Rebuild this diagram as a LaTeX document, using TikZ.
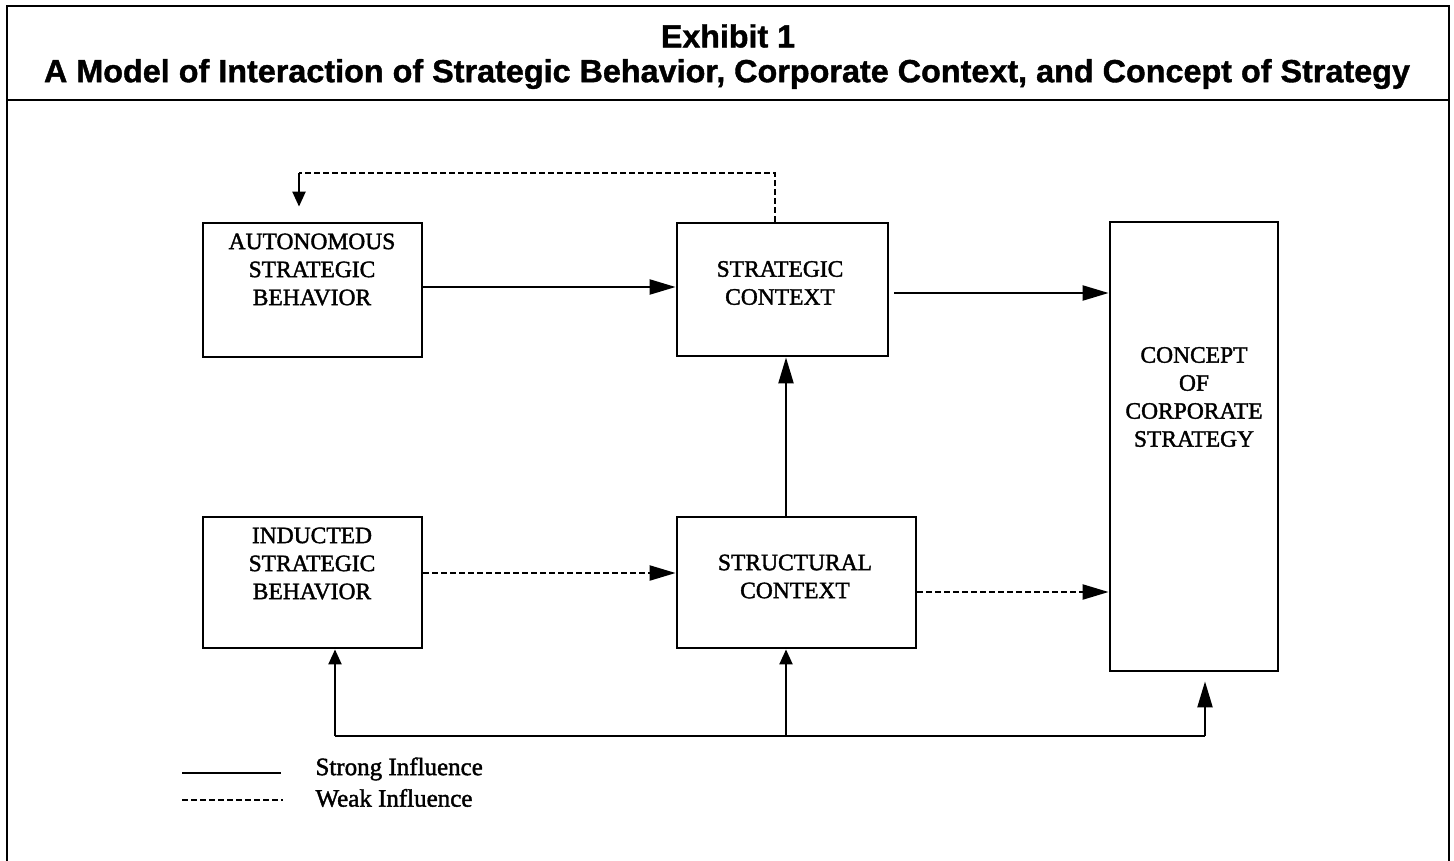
\documentclass[tikz,border=0pt]{standalone}
\usepackage{graphicx}
\usepackage{fontspec}
\setmainfont{Liberation Serif}
\newfontfamily\boxfont{Liberation Serif}[FakeBold=1.6]
\newfontfamily\headfont{Liberation Sans}[FakeBold=1.2]
\usetikzlibrary{arrows.meta}

\tikzset{
  box/.style={draw,line width=2.8pt,inner sep=0pt},
  boxtext/.style={align=center,font=\boxfont\fontsize{23.5}{28}\selectfont},
  headtext/.style={font=\headfont\bfseries\fontsize{32}{38}\selectfont},
  strong/.style={line width=2.2pt},
  weak/.style={line width=2.2pt,dash pattern=on 6pt off 3pt},
  bigtip/.style={-{Triangle[length=26pt,width=15pt]}},
  smalltip/.style={-{Triangle[length=15pt,width=13pt]}},
  legendtext/.style={anchor=west,font=\boxfont\fontsize{25}{30}\selectfont}
}

\begin{document}
\begin{tikzpicture}[x=1pt,y=-1pt]
\useasboundingbox (0,0) rectangle (1454,860);

% frame and heading
\draw[line width=2.4pt] (7,880) -- (7,6) -- (1449,6) -- (1449,880);
\draw[line width=2.4pt] (7,100) -- (1449,100);
\node[headtext] (exh) at (728,36) {\resizebox{134pt}{\height}{Exhibit 1}};
\node[headtext] (ttl) at (727,74) {\resizebox{1366pt}{\height}{A Model of Interaction of Strategic Behavior, Corporate Context, and Concept of Strategy}};

% boxes
\node[box,minimum width=219pt,minimum height=134pt] (aut) at (312.5,290) {};
\node[box,minimum width=211pt,minimum height=133pt] (strat) at (782.5,289.5) {};
\node[box,minimum width=219pt,minimum height=131pt] (ind) at (312.5,582.5) {};
\node[box,minimum width=239pt,minimum height=131pt] (struct) at (796.5,582.5) {};
\node[box,minimum width=168pt,minimum height=449pt] (con) at (1194,446.5) {};

\node[boxtext] (autT) at (312,269.5) {AUTONOMOUS\\STRATEGIC\\BEHAVIOR};
\node[boxtext] (stratT) at (780,283) {STRATEGIC\\CONTEXT};
\node[boxtext] (indT) at (312,563.5) {INDUCTED\\STRATEGIC\\BEHAVIOR};
\node[boxtext] (structT) at (795,576.5) {STRUCTURAL\\CONTEXT};
\node[boxtext] (conT) at (1194,397) {CONCEPT\\OF\\CORPORATE\\STRATEGY};

% influences
\draw[strong,bigtip] ([yshift=3pt]aut.east) -- ([yshift=3pt]aut.east -| strat.west);
\draw[strong,bigtip] ([xshift=5pt,yshift=-3.5pt]strat.east) -- ([yshift=-3.5pt]strat.east -| con.west);
\draw[weak,bigtip] ([yshift=9.5pt]ind.east) -- ([yshift=9.5pt]ind.east -| struct.west);
\draw[weak,bigtip] ([yshift=-9.5pt]struct.east) -- ([yshift=-9.5pt]struct.east -| con.west);

\coordinate (busL) at (335,736);
\coordinate (mid) at (786,736);
\coordinate (busR) at (1205,736);
\draw[strong,bigtip] (mid |- struct.north) -- (mid |- strat.south);
\draw[strong] (busL) -- (busR);
\draw[strong,smalltip] (busL) -- (busL |- ind.south);
\draw[strong,smalltip] (mid) -- (mid |- struct.south);
\draw[strong,bigtip,shorten >=9pt] (busR) -- (busR |- con.south);

\coordinate (fbR) at (775,173);
\coordinate (fbL) at (299,173);
\draw[weak] (fbR |- strat.north) -- (fbR) -- (fbL);
\draw[strong,smalltip,shorten >=15pt] (fbL) -- (fbL |- aut.north);

% legend
\coordinate (lgA) at (182,773);
\coordinate (lgB) at (281,773);
\coordinate (lgC) at (182,800);
\coordinate (lgD) at (283,800);
\draw[strong] (lgA) -- (lgB);
\draw[weak] (lgC) -- (lgD);
\node[legendtext] (lgStrong) at (312,769) {Strong Influence};
\node[legendtext] (lgWeak) at (312,798) {Weak Influence};

\end{tikzpicture}
\end{document}
